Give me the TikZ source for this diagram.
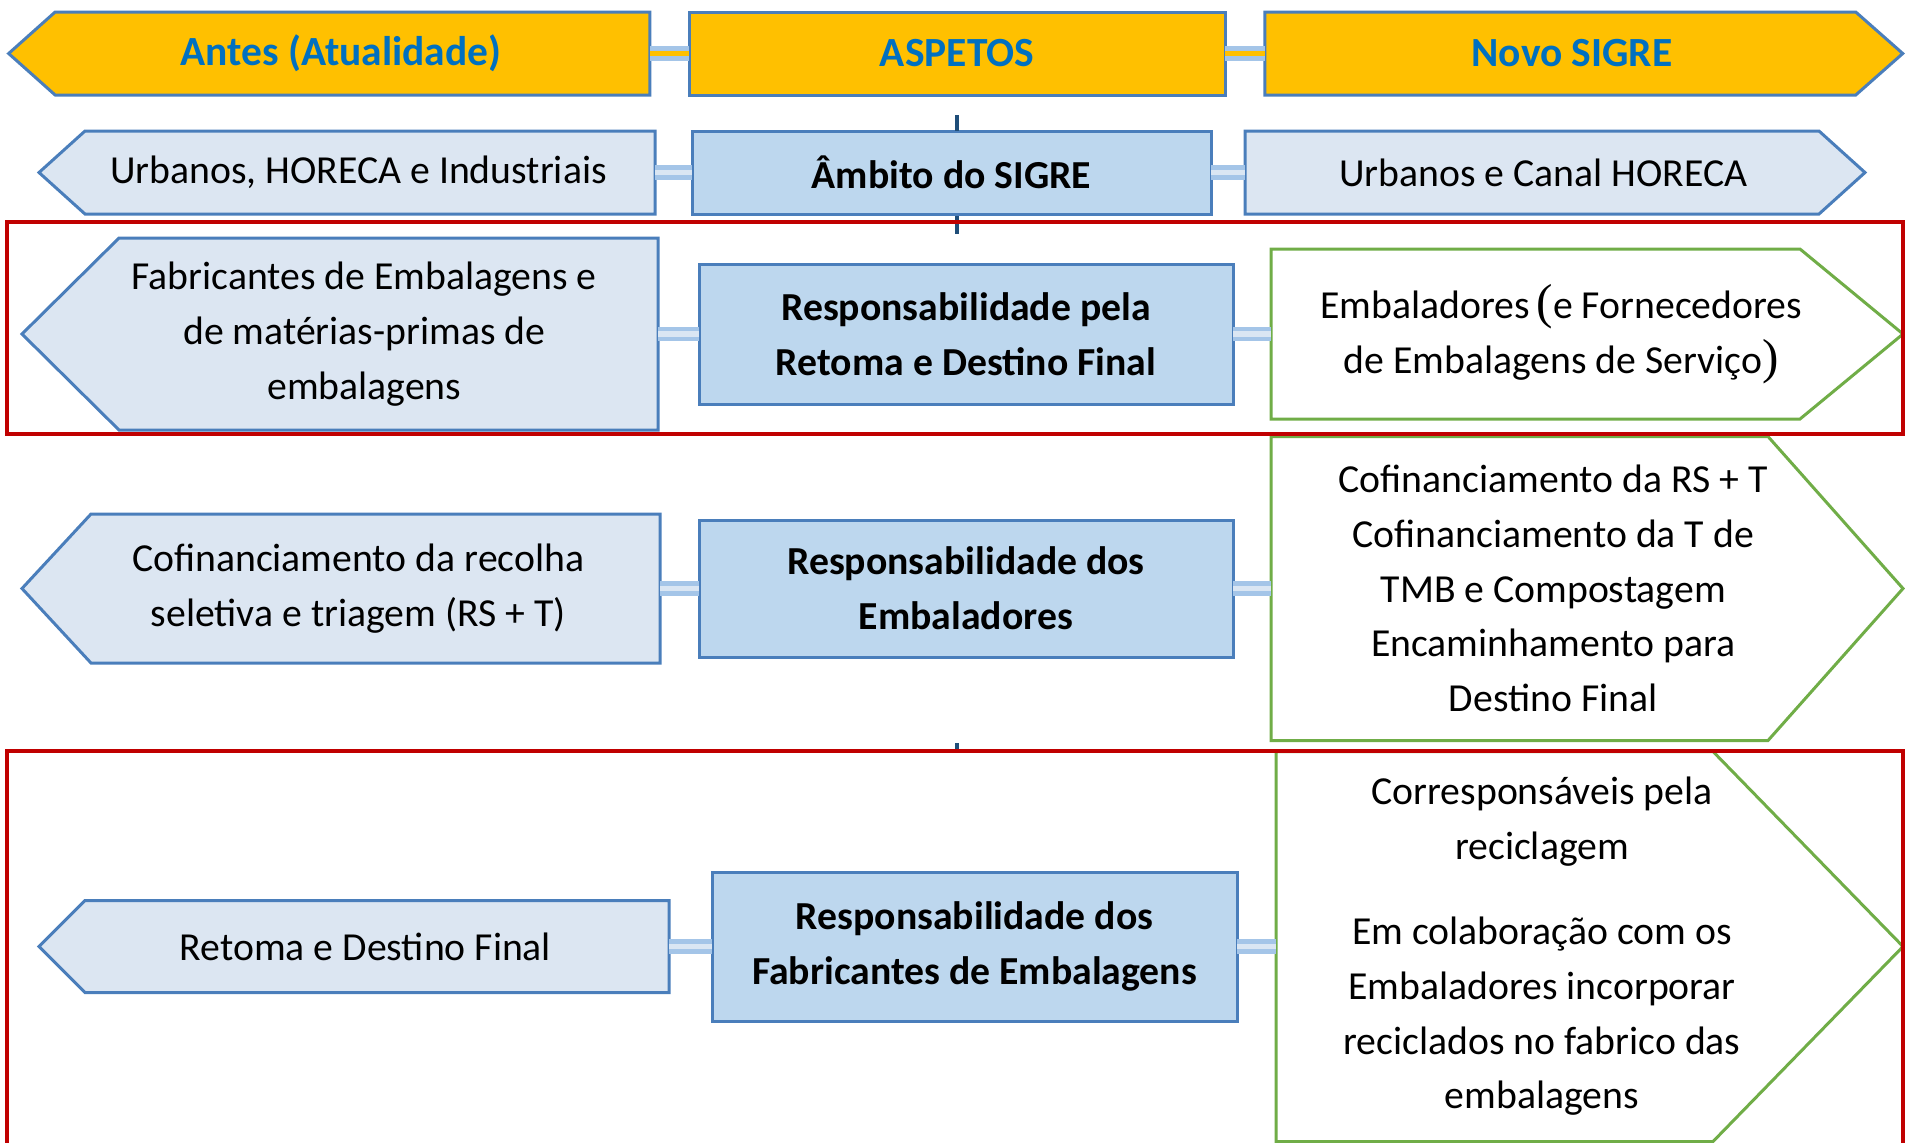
\documentclass[tikz,border=0pt]{standalone}
\usepackage{fontspec}
\setmainfont{Carlito}
\newfontfamily\parenfont{Liberation Serif}
\usetikzlibrary{backgrounds}
\definecolor{hdrfill}{HTML}{FFC000}
\definecolor{hdrtext}{HTML}{0070C0}
\definecolor{boxline}{HTML}{4A7EBB}
\definecolor{sidefill}{HTML}{DCE6F2}
\definecolor{midfill}{HTML}{BDD7EE}
\definecolor{newline}{HTML}{70AD47}
\definecolor{framered}{HTML}{C00000}
\definecolor{linkout}{HTML}{A4C5E8}
\definecolor{linkin}{HTML}{DAE6F3}
\definecolor{tickblue}{HTML}{1F4E79}

\begin{document}
\begin{tikzpicture}[
    every node/.style={font=\fontsize{11.3}{15.6}\selectfont, align=center, inner sep=0pt, outer sep=0pt},
    hdr/.style={minimum height=0.83cm, font=\fontsize{11.8}{14}\selectfont\bfseries, text=hdrtext},
    midbox/.style={draw=boxline, fill=midfill, line width=0.85pt, font=\fontsize{11.3}{15.6}\selectfont\bfseries},
    sideshape/.style={draw=boxline, fill=sidefill, line width=0.85pt},
    hdrshape/.style={draw=boxline, fill=hdrfill, line width=0.85pt},
    newshape/.style={draw=newline, fill=white, line width=0.85pt},
    link/.style={draw=linkout, line width=1.3pt, double=linkin, double distance=1.6pt},
    hdrlink/.style={link, double=hdrfill},
    redframe/.style={draw=framered, line width=1.4pt},
    vtick/.style={draw=tickblue, line width=1.2pt}
]
    \useasboundingbox (0,0) rectangle (19.05,-11.42);

    % Header row
    \node[hdr, minimum width=6.18cm] (ant) at (3.409,-0.535) {Antes (Atualidade)};
    \node[hdr, draw=boxline, fill=hdrfill, line width=0.85pt, minimum width=5.36cm] (asp) at (9.57,-0.535) {ASPETOS};
    \node[hdr, minimum width=6.145cm] (novo) at (15.72,-0.535) {Novo SIGRE};

    % Scope row
    \node[minimum width=5.93cm, minimum height=0.83cm] (urbA) at (3.585,-1.725) {Urbanos, HORECA e Industriais};
    \node[midbox, minimum width=5.19cm, minimum height=0.83cm] (ambito) at (9.515,-1.725) {Âmbito do SIGRE};
    \node[minimum width=5.97cm, minimum height=0.83cm] (urbN) at (15.435,-1.725) {Urbanos e Canal HORECA};

    % Retoma row
    \node[minimum width=5.875cm, minimum height=1.92cm] (fabA) at (3.6425,-3.34) {Fabricantes de Embalagens e\\de matérias-primas de\\embalagens};
    \node[midbox, minimum width=5.34cm, minimum height=1.40cm] (respR) at (9.66,-3.34) {Responsabilidade pela\\Retoma e Destino Final};
    \node[minimum width=5.805cm, minimum height=1.70cm] (embN) at (15.6125,-3.34) {Embaladores\,{\parenfont\fontsize{14}{15.6}\selectfont(}e Fornecedores\\de Embalagens de Serviço{\parenfont\fontsize{14}{15.6}\selectfont)}};

    % Embaladores row
    \node[minimum width=6.035cm, minimum height=1.49cm] (cofA) at (3.5825,-5.885) {Cofinanciamento da recolha\\seletiva e triagem (RS + T)};
    \node[midbox, minimum width=5.34cm, minimum height=1.37cm] (respE) at (9.66,-5.885) {Responsabilidade dos\\Embaladores};
    \node[minimum width=5.645cm, minimum height=3.04cm] (cofN) at (15.5325,-5.885) {Cofinanciamento da RS + T\\Cofinanciamento da T de\\TMB e Compostagem\\Encaminhamento para\\Destino Final};

    % Fabricantes row
    \node[minimum width=6.07cm, minimum height=0.92cm] (retA) at (3.655,-9.465) {Retoma e Destino Final};
    \node[midbox, minimum width=5.25cm, minimum height=1.49cm] (respF) at (9.745,-9.465) {Responsabilidade dos\\Fabricantes de Embalagens};
    \node[minimum width=5.32cm, minimum height=3.90cm] (corN) at (15.42,-9.465) {Corresponsáveis pela\\reciclagem\\[0.3cm]Em colaboração com os\\Embaladores incorporar\\reciclados no fabrico das\\embalagens};

    % Arrow shapes behind the texts
    \begin{scope}[on background layer]
        \path[hdrshape] (ant.north east) -- ([xshift=0.2325cm]ant.north west) -- ([xshift=-0.2325cm]ant.west) -- ([xshift=0.2325cm]ant.south west) -- (ant.south east) -- cycle;
        \path[hdrshape] (novo.north west) -- ([xshift=-0.235cm]novo.north east) -- ([xshift=0.235cm]novo.east) -- ([xshift=-0.235cm]novo.south east) -- (novo.south west) -- cycle;
        \path[sideshape] (urbA.north east) -- ([xshift=0.23cm]urbA.north west) -- ([xshift=-0.23cm]urbA.west) -- ([xshift=0.23cm]urbA.south west) -- (urbA.south east) -- cycle;
        \path[sideshape] (urbN.north west) -- ([xshift=-0.23cm]urbN.north east) -- ([xshift=0.23cm]urbN.east) -- ([xshift=-0.23cm]urbN.south east) -- (urbN.south west) -- cycle;
        \path[sideshape] (fabA.north east) -- ([xshift=0.485cm]fabA.north west) -- ([xshift=-0.485cm]fabA.west) -- ([xshift=0.485cm]fabA.south west) -- (fabA.south east) -- cycle;
        \path[newshape] (embN.north west) -- ([xshift=-0.515cm]embN.north east) -- ([xshift=0.515cm]embN.east) -- ([xshift=-0.515cm]embN.south east) -- (embN.south west) -- cycle;
        \path[sideshape] (cofA.north east) -- ([xshift=0.345cm]cofA.north west) -- ([xshift=-0.345cm]cofA.west) -- ([xshift=0.345cm]cofA.south west) -- (cofA.south east) -- cycle;
        \path[newshape] (cofN.north west) -- ([xshift=-0.675cm]cofN.north east) -- ([xshift=0.675cm]cofN.east) -- ([xshift=-0.675cm]cofN.south east) -- (cofN.south west) -- cycle;
        \path[sideshape] (retA.north east) -- ([xshift=0.23cm]retA.north west) -- ([xshift=-0.23cm]retA.west) -- ([xshift=0.23cm]retA.south west) -- (retA.south east) -- cycle;
        \path[newshape] (corN.north west) -- ([xshift=-0.95cm]corN.north east) -- ([xshift=0.95cm]corN.east) -- ([xshift=-0.95cm]corN.south east) -- (corN.south west) -- cycle;
    \end{scope}

    % Links
    \draw[hdrlink] (ant.east) -- (asp.west);
    \draw[hdrlink] (asp.east) -- (novo.west);
    \draw[link] (urbA.east) -- (ambito.west);
    \draw[link] (ambito.east) -- (urbN.west);
    \draw[link] (fabA.east) -- (respR.west);
    \draw[link] (respR.east) -- (embN.west);
    \draw[link] (cofA.east) -- (respE.west);
    \draw[link] (respE.east) -- (cofN.west);
    \draw[link] (retA.east) -- (respF.west);
    \draw[link] (respF.east) -- (corN.west);

    % Ticks
    \draw[vtick] (9.57,-1.15) -- (9.57,-1.31);
    \draw[vtick] (9.57,-2.16) -- (9.57,-2.34);
    \draw[vtick] (9.57,-7.43) -- (9.57,-7.51);

    % Red frames
    \draw[redframe] (0.07,-2.22) rectangle (19.03,-4.34);
    \draw[redframe] (0.07,-11.6) -- (0.07,-7.51) -- (19.03,-7.51) -- (19.03,-11.6);
\end{tikzpicture}
\end{document}
